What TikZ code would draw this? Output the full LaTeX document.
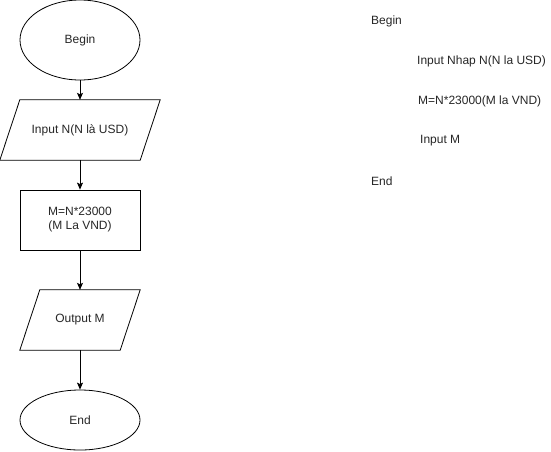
\documentclass[tikz,border=0pt]{standalone}
\usepackage{fontspec}
\setmainfont{Liberation Sans}
\usetikzlibrary{shapes.geometric,arrows.meta,calc}
\begin{document}
\begin{tikzpicture}[x=1pt,y=-1pt,
  every node/.style={font=\fontsize{12}{14}\selectfont, text=black!85},
  term/.style={ellipse,draw,line width=0.8pt,inner sep=0pt,minimum width=120pt},
  iobox/.style={rectangle,inner sep=0pt,minimum height=60pt},
  proc/.style={rectangle,draw,line width=0.8pt,minimum width=120pt,minimum height=60pt,
    align=center,inner sep=0pt},
  outline/.style={line width=0.8pt},
  flow/.style={line width=0.8pt,-{Stealth[length=7pt,width=6pt,inset=1.5pt]}},
  note/.style={anchor=west,inner sep=0pt}]
  \useasboundingbox (0,0) rectangle (551,451);
  % flowchart
  \node[term,minimum height=80pt] (begin) at (80,40) {Begin};
  \node[iobox,minimum width=160pt] (inN) at (80,130) {Input N(N là USD)};
  \draw[outline] ($(inN.north west)+(20,0)$) -- (inN.north east)
    -- ($(inN.south east)+(-20,0)$) -- (inN.south west) -- cycle;
  \node[proc] (calc) at (80,220) {M=N*23000\\(M La VND)};
  \node[iobox,minimum width=120pt] (outM) at (80,320) {Output M};
  \draw[outline] ($(outM.north west)+(20,0)$) -- (outM.north east)
    -- ($(outM.south east)+(-20,0)$) -- (outM.south west) -- cycle;
  \node[term,minimum height=60pt] (end) at (80,420) {End};
  \draw[flow] (begin) -- (inN);
  \draw[flow] (inN) -- (calc);
  \draw[flow] (calc) -- (outM);
  \draw[flow] (outM) -- (end);
  % pseudocode
  \node[note] (p1) at (371,21) {Begin};
  \node[note] (p2) at (417,61) {Input Nhap N(N la USD)};
  \node[note] (p3) at (418,101) {M=N*23000(M la VND)};
  \node[note] (p4) at (420,141) {Input M};
  \node[note] (p5) at (371,181) {End};
\end{tikzpicture}
\end{document}
